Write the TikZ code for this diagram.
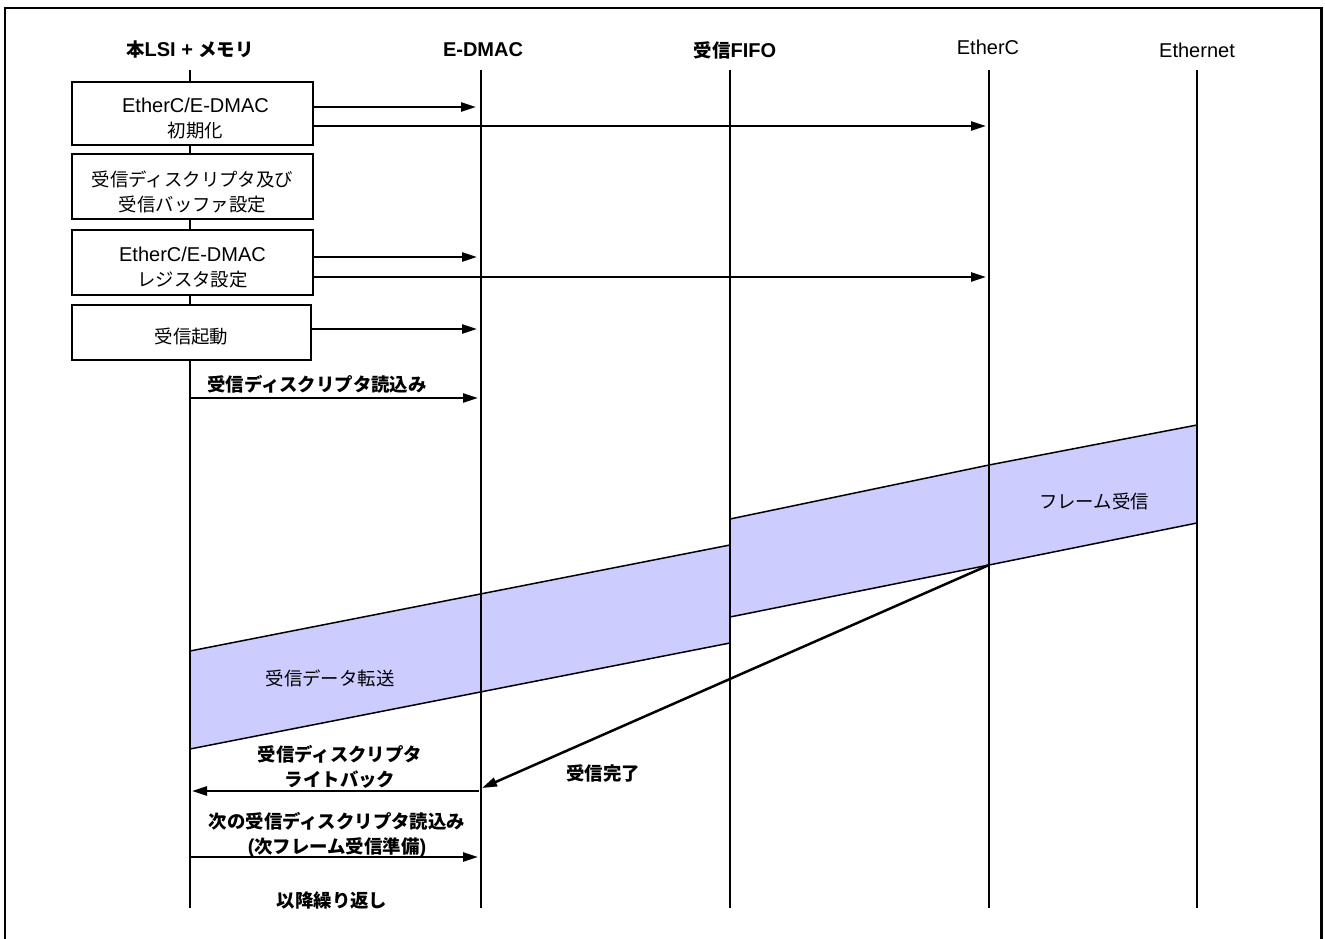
\documentclass[tikz,border=0pt]{standalone}
\usepackage{fontspec}
\setmainfont{Liberation Sans}
\newfontfamily\cjk[Scale=0.92]{Noto Sans CJK JP}
\usetikzlibrary{arrows.meta}
\newcommand\J[1]{{\cjk #1}}
\definecolor{bandcol}{HTML}{CCCCFF}
\begin{document}
\begin{tikzpicture}[x=1pt,y=-1pt,
  txt/.style={font=\fontsize{20}{25}\selectfont, inner sep=0pt, align=center},
  btxt/.style={font=\fontsize{20}{25}\selectfont\bfseries, inner sep=0pt, align=center},
  lifeline/.style={line width=1.5pt},
  stepbox/.style={draw, fill=white, line width=2pt, minimum width=241pt, inner sep=0pt},
  boxtext/.style={txt, yshift=-5pt},
  msg/.style={line width=2.5pt, -{Triangle[length=15pt,width=9pt]}},
  band/.style={fill=bandcol, draw=black, line width=1.5pt, line join=round}]
\useasboundingbox (0,0) rectangle (1325,939);
% frame
\draw[line width=2.2pt] (5,939) -- (5,8) -- (1321.5,8) -- (1321.5,939);

% headers
\node[btxt] (h1) at (190,50) {\J{本}LSI + \J{メモリ}};
\node[btxt] (h2) at (483,50) {E-DMAC};
\node[btxt] (h3) at (735,50) {\J{受信}FIFO};
\node[txt]  (h4) at (988,47) {EtherC};
\node[txt]  (h5) at (1197,50) {Ethernet};

% lifeline coordinates
\foreach \n/\x in {1/190,2/481,3/730,4/989,5/1197}{
  \coordinate (t\n) at (\x,70);
  \coordinate (b\n) at (\x,908);
}

% bands
\draw[band] (989,465) -- (1197,425) -- (1197,523) -- (989,565) -- cycle;
\draw[band] (730,519) -- (989,465) -- (989,565) -- (730,617) -- cycle;
\draw[band] (190,651) -- (730,545) -- (730,643) -- (190,749) -- cycle;

% lifelines
\foreach \n in {1,...,5}{ \draw[lifeline] (t\n) -- (b\n); }

% boxes
\node[stepbox, minimum height=63pt,
  label={[boxtext, xshift=3pt]center:{EtherC/E-DMAC\\\J{初期化}}}] (s1) at (192.5,113.5) {};
\node[stepbox, minimum height=65pt,
  label={[boxtext]center:{\J{受信ディスクリプタ及び}\\\J{受信バッファ設定}}}] (s2) at (192.5,186.5) {};
\node[stepbox, minimum height=65pt,
  label={[boxtext]center:{EtherC/E-DMAC\\\J{レジスタ設定}}}] (s3) at (192.5,262.5) {};
\node[stepbox, minimum height=55pt, minimum width=239pt,
  label={[boxtext, yshift=1pt]center:{\J{受信起動}}}] (s4) at (191.5,332.5) {};

% message end points on lifelines
\coordinate (m1) at (476,107);
\coordinate (m2) at (986,126);
\coordinate (m3) at (477,257);
\coordinate (m4) at (986,277);
\coordinate (m5) at (477,329);
\coordinate (r1s) at (190,398);
\coordinate (r1e) at (478,398);
\coordinate (fend) at (989,565);
\coordinate (fdone) at (482,788);
\coordinate (wbs) at (479,791);
\coordinate (wbe) at (192,791);
\coordinate (nrs) at (190,857);
\coordinate (nre) at (478,857);

\draw[msg] (s1.east |- m1) -- (m1);
\draw[msg] (s1.east |- m2) -- (m2);
\draw[msg] (s3.east |- m3) -- (m3);
\draw[msg] (s3.east |- m4) -- (m4);
\draw[msg] (s4.east |- m5) -- (m5);
\draw[msg] (r1s) -- (r1e);
\draw[msg] (fend) -- (fdone);
\draw[msg] (wbs) -- (wbe);
\draw[msg] (nrs) -- (nre);

% labels
\node[btxt] (l1) at (317,384) {\J{受信ディスクリプタ読込み}};
\node[txt]  (l2) at (1094,501) {\J{フレーム受信}};
\node[txt]  (l3) at (330,678) {\J{受信データ転送}};
\node[btxt] (l4) at (340,767) {\J{受信ディスクリプタ}\\\J{ライトバック}};
\node[btxt] (l5) at (603,773) {\J{受信完了}};
\node[btxt] (l6) at (337,835) {\J{次の受信ディスクリプタ読込み}\\(\J{次フレーム受信準備})};
\node[btxt] (l7) at (332,900) {\J{以降繰り返し}};
\end{tikzpicture}
\end{document}
